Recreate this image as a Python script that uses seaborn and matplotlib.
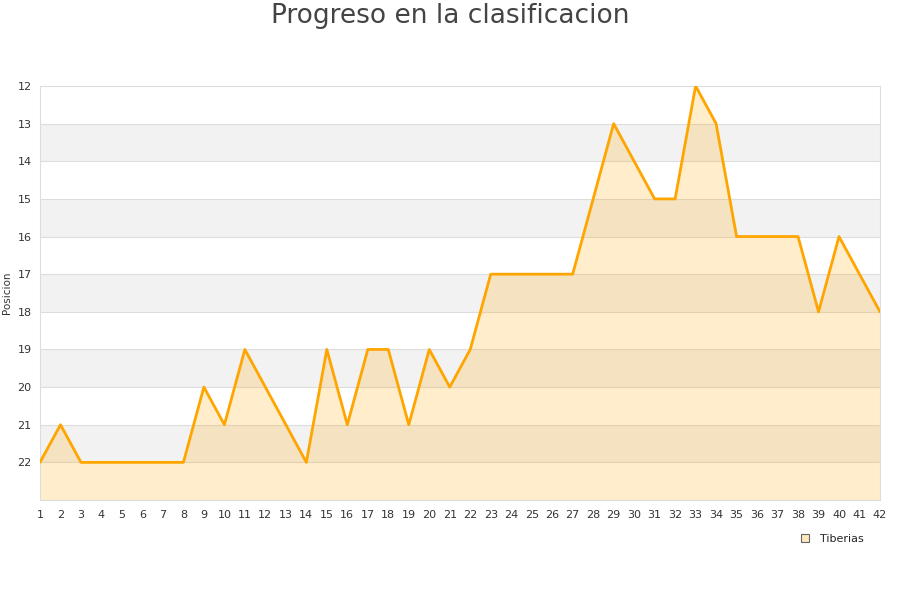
import numpy as np
import pandas as pd
import seaborn as sns
import matplotlib.pyplot as plt

jornadas = list(range(1, 43))
posiciones = [22, 21, 22, 22, 22, 22, 22, 22, 20, 21, 19, 20, 21, 22, 19, 21, 19, 19, 21, 19,
              20, 19, 17, 17, 17, 17, 17, 15, 13, 14, 15, 15, 12, 13, 16, 16, 16, 16, 18, 16,
              17, 18]
equipo = 'Tiberias'

data = pd.DataFrame({'Jornada': jornadas, 'Posicion': posiciones})

sns.set_style('white')
plt.rcParams['font.family'] = ['DejaVu Sans']

fig = plt.figure(figsize=(9, 6), dpi=100)
ax = fig.add_axes([40/900, 1-500/600, 840/900, 414/600])

# bandas alternas
for k in range(13, 23, 2):
    ax.axhspan(k, k+1, color='#f2f2f2', zorder=0, lw=0)
for k in range(13, 23):
    ax.axhline(k, color='#dddddd', lw=0.8, zorder=1)

ax.fill_between(data.Jornada, data.Posicion, 23, color='orange', alpha=0.2, lw=0, zorder=2)
sns.lineplot(data=data, x='Jornada', y='Posicion', color='orange', lw=2.0, ax=ax, zorder=3)
ax.plot([], [], 's', ms=6, markerfacecolor='#ffe8bd', markeredgecolor='#666666', mew=0.8,
        label=equipo)

ax.set_xlim(1, 42)
ax.set_ylim(23, 12)
ax.set_xticks(jornadas)
ax.set_yticks(range(12, 23))
ax.tick_params(axis='both', labelsize=8, colors='#333333', length=0)
ax.tick_params(axis='x', pad=7)
ax.tick_params(axis='y', pad=6)
ax.set_xlabel('')
ax.set_ylabel('Posicion', fontsize=7.5, color='#333333', labelpad=4)
for s in ax.spines.values():
    s.set_color('#dddddd')
    s.set_linewidth(0.8)

fig.text(0.5, 1-16/600, 'Progreso en la clasificacion', ha='center', va='center',
         fontsize=19, color='#444444')

leg = ax.legend(loc='upper right', bbox_to_anchor=(0.993, -0.058), frameon=False,
                fontsize=8, handletextpad=0.4)

fig.savefig('out.png', dpi=100)
